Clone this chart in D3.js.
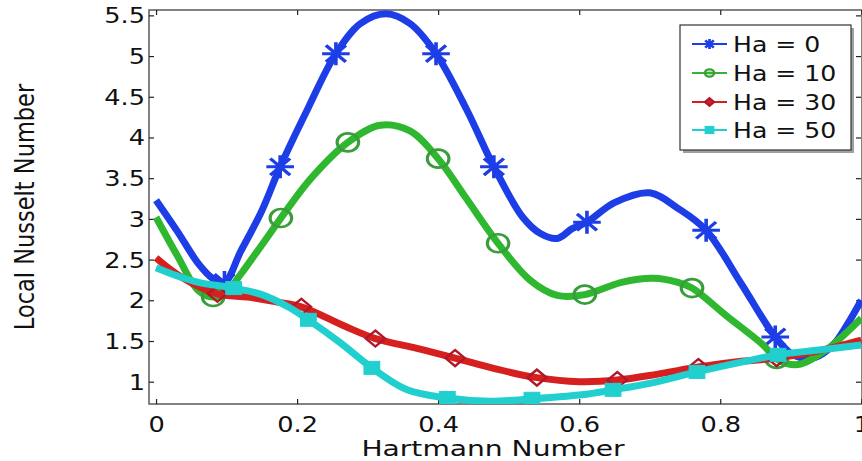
<!DOCTYPE html>
<html>
<head>
<meta charset="utf-8">
<script src="https://cdn.jsdelivr.net/npm/d3@7"></script>
<style>
  html, body { margin: 0; padding: 0; background: #fff; }
  svg { display: block; }
  text { font-family: "DejaVu Sans", sans-serif; fill: #111; }
</style>
</head>
<body>
<svg id="chart" width="862" height="461"></svg>
<script>
// ---- data ----------------------------------------------------------------
const xTicks = [0, 0.2, 0.4, 0.6, 0.8, 1];
const xTickLabels = ["0", "0.2", "0.4", "0.6", "0.8", "1"];
const yTicks = [1, 1.5, 2, 2.5, 3, 3.5, 4, 4.5, 5, 5.5];
const yTickLabels = ["1", "1.5", "2", "2.5", "3", "3.5", "4", "4.5", "5", "5.5"];

const seriesNames = ["Ha = 0", "Ha = 10", "Ha = 30", "Ha = 50"];

// Ha = 0
const ha0X = [0.000, 0.030, 0.060, 0.080, 0.097, 0.120, 0.150, 0.176, 0.215, 0.255, 0.290, 0.326,
              0.360, 0.397, 0.440, 0.479, 0.520, 0.545, 0.569, 0.590, 0.611, 0.650, 0.700, 0.740,
              0.780, 0.830, 0.878, 0.905, 0.935, 0.960, 0.980, 1.000];
const ha0Y = [3.23, 2.85, 2.45, 2.27, 2.22, 2.60, 3.10, 3.64, 4.35, 5.03, 5.40, 5.52,
              5.40, 5.03, 4.35, 3.64, 3.02, 2.82, 2.76, 2.88, 2.96, 3.20, 3.32, 3.13,
              2.86, 2.20, 1.55, 1.32, 1.30, 1.45, 1.70, 2.00];
const ha0Marks = [4, 7, 9, 13, 15, 20, 24, 26];

// Ha = 10
const ha10X = [0.000, 0.030, 0.060, 0.081, 0.100, 0.120, 0.150, 0.177, 0.220, 0.272, 0.318, 0.360,
               0.400, 0.440, 0.485, 0.530, 0.569, 0.608, 0.660, 0.705, 0.740, 0.760, 0.810, 0.861,
               0.880, 0.910, 0.950, 1.000];
const ha10Y = [3.02, 2.55, 2.12, 2.04, 2.10, 2.32, 2.68, 3.01, 3.50, 3.94, 4.15, 4.08,
               3.74, 3.25, 2.70, 2.25, 2.06, 2.07, 2.22, 2.27, 2.22, 2.15, 1.80, 1.45,
               1.28, 1.21, 1.39, 1.78];
const ha10Marks = [3, 7, 9, 12, 14, 17, 21, 24];

// Ha = 30
const ha30X = [0.000, 0.035, 0.087, 0.130, 0.170, 0.206, 0.268, 0.311, 0.370, 0.424, 0.480, 0.540,
               0.600, 0.654, 0.710, 0.769, 0.830, 0.880, 0.940, 1.000];
const ha30Y = [2.52, 2.29, 2.08, 2.04, 1.98, 1.92, 1.68, 1.53, 1.41, 1.29, 1.16, 1.05,
               1.00, 1.02, 1.09, 1.18, 1.25, 1.29, 1.38, 1.51];
const ha30Marks = [2, 5, 7, 9, 11, 13, 15, 17];

// Ha = 50
const ha50X = [0.000, 0.030, 0.060, 0.110, 0.150, 0.187, 0.216, 0.261, 0.306, 0.356, 0.413, 0.474,
               0.533, 0.613, 0.648, 0.700, 0.767, 0.830, 0.882, 0.940, 1.000];
const ha50Y = [2.40, 2.30, 2.22, 2.15, 2.07, 1.92, 1.76, 1.48, 1.17, 0.90, 0.80, 0.76,
               0.79, 0.85, 0.90, 0.98, 1.12, 1.24, 1.33, 1.39, 1.45];
const ha50Marks = [3, 6, 8, 10, 12, 14, 16, 18];

// ---- layout ----------------------------------------------------------------
const svg = d3.select("#chart");
const plotLeft = 149, plotRight = 862, plotTop = 10, plotBottom = 404;
const sx = 1.25;   // horizontal text stretch

const x = d3.scaleLinear().domain([-0.01, 1.001]).range([plotLeft, plotRight]);
const y = d3.scaleLinear().domain([0.726, 5.566]).range([plotBottom, plotTop]);

const colors = ["#1d3ee6", "#2fb82f", "#d62020", "#21cfcf"];
const edgeColors = ["#1d3ee6", "#3a9c3a", "#b0182a", "#21cfcf"];
const markerTypes = ["star", "circle", "diamond", "square"];

const series = [
  { xs: ha0X, ys: ha0Y, marks: ha0Marks },
  { xs: ha10X, ys: ha10Y, marks: ha10Marks },
  { xs: ha30X, ys: ha30Y, marks: ha30Marks },
  { xs: ha50X, ys: ha50Y, marks: ha50Marks }
];

// ---- axes frame with inward ticks -----------------------------------------
const axisColor = "#5a5a5a";
const tickLen = 5;

svg.append("defs").append("clipPath").attr("id", "plotClip")
  .append("rect").attr("x", plotLeft).attr("y", plotTop)
  .attr("width", plotRight - plotLeft).attr("height", plotBottom - plotTop);

svg.append("rect")
  .attr("x", plotLeft).attr("y", plotTop)
  .attr("width", plotRight - plotLeft).attr("height", plotBottom - plotTop)
  .attr("fill", "none").attr("stroke", axisColor).attr("stroke-width", 1.5);

function styleTicks(g) {
  g.select(".domain").remove();
  g.selectAll(".tick line").attr("stroke", "#222").attr("stroke-width", 1.2);
}

// bottom + top ticks
const gxB = svg.append("g").attr("transform", `translate(0,${plotBottom})`)
  .call(d3.axisBottom(x).tickValues(xTicks).tickSize(-tickLen).tickFormat((d, i) => xTickLabels[i]));
styleTicks(gxB);
gxB.selectAll(".tick text")
  .attr("y", null).attr("dy", null)
  .attr("transform", `translate(0,27.5) scale(${sx},1)`)
  .attr("text-anchor", "middle")
  .style("font-size", "20.5px").style("font-family", "DejaVu Sans").attr("fill", "#111");

const gxT = svg.append("g").attr("transform", `translate(0,${plotTop})`)
  .call(d3.axisTop(x).tickValues(xTicks).tickSize(-tickLen).tickFormat(""));
styleTicks(gxT);

// left + right ticks
const gyL = svg.append("g").attr("transform", `translate(${plotLeft},0)`)
  .call(d3.axisLeft(y).tickValues(yTicks).tickSize(-tickLen).tickFormat((d, i) => yTickLabels[i]));
styleTicks(gyL);
gyL.selectAll(".tick text")
  .attr("x", null).attr("dy", null)
  .attr("transform", `translate(-4,7.5) scale(${sx},1)`)
  .attr("text-anchor", "end")
  .style("font-size", "20.5px").style("font-family", "DejaVu Sans").attr("fill", "#111");

const gyR = svg.append("g").attr("transform", `translate(${plotRight - 1},0)`)
  .call(d3.axisRight(y).tickValues(yTicks).tickSize(-tickLen).tickFormat(""));
styleTicks(gyR);

// ---- axis titles -----------------------------------------------------------
svg.append("text")
  .attr("transform", `translate(493,455.8) scale(1.34,1)`)
  .attr("text-anchor", "middle")
  .style("font-size", "21px")
  .text("Hartmann Number");

svg.append("text")
  .attr("transform", `translate(34,207) scale(1.2,1) rotate(-90)`)
  .attr("text-anchor", "middle")
  .style("font-size", "22.5px")
  .text("Local Nusselt Number");

// ---- markers ---------------------------------------------------------------
function drawMarker(g, type, cx, cy, size, i, small) {
  const m = g.append("g").attr("transform", `translate(${cx},${cy}) scale(1.2,1)`);
  if (type === "star") {
    const s = size, d = size * 0.72;
    m.append("path")
      .attr("d", `M${-s},0H${s}M0,${-s}V${s}M${-d},${-d}L${d},${d}M${-d},${d}L${d},${-d}`)
      .attr("stroke", edgeColors[i]).attr("stroke-width", small ? 2.2 : 3).attr("fill", "none");
  } else if (type === "circle") {
    m.append("circle").attr("r", size)
      .attr("stroke", edgeColors[i]).attr("stroke-width", small ? 2 : 2.6)
      .attr("fill", small ? colors[i] : "none").attr("fill-opacity", small ? 0.35 : 0);
  } else if (type === "diamond") {
    m.append("path")
      .attr("d", `M0,${-size}L${size},0L0,${size}L${-size},0Z`)
      .attr("stroke", edgeColors[i]).attr("stroke-width", small ? 2 : 2.2)
      .attr("fill", small ? colors[i] : "none");
  } else {
    m.append("rect").attr("x", -size).attr("y", -size)
      .attr("width", 2 * size).attr("height", 2 * size)
      .attr("fill", colors[i]).attr("stroke", colors[i]).attr("stroke-width", 1);
  }
}

// ---- curves ----------------------------------------------------------------
const plot = svg.append("g").attr("clip-path", "url(#plotClip)");
const line = d3.line()
  .x(d => x(d[0])).y(d => y(d[1]))
  .curve(d3.curveCatmullRom.alpha(0.5));

const markerSizes = [11.5, 9, 8, 6.5];

series.forEach((s, i) => {
  const pts = s.xs.map((v, k) => [v, s.ys[k]]);
  plot.append("path")
    .datum(pts)
    .attr("d", line)
    .attr("fill", "none")
    .attr("stroke", colors[i])
    .attr("stroke-width", 7)
    .attr("stroke-linejoin", "round")
    .attr("stroke-linecap", "butt");
  const mg = plot.append("g");
  s.marks.forEach(k => drawMarker(mg, markerTypes[i], x(s.xs[k]), y(s.ys[k]), markerSizes[i], i, false));
});

// ---- legend ----------------------------------------------------------------
const lg = svg.append("g");
const lx = 680, ly = 25, lw = 171, lh = 125;
lg.append("rect").attr("x", lx + 3).attr("y", ly + 3).attr("width", lw).attr("height", lh)
  .attr("fill", "#a0a0a0");
lg.append("rect").attr("x", lx).attr("y", ly).attr("width", lw).attr("height", lh)
  .attr("fill", "#fff").attr("stroke", "#333").attr("stroke-width", 1.2);

const rowY = [44, 73, 102, 130];
const legendMarkerSizes = [5, 3.8, 3.8, 3.6];
seriesNames.forEach((name, i) => {
  const yy = rowY[i];
  lg.append("line").attr("x1", 692).attr("x2", 727).attr("y1", yy).attr("y2", yy)
    .attr("stroke", colors[i]).attr("stroke-width", 2);
  drawMarker(lg, markerTypes[i], 709.5, yy, legendMarkerSizes[i], i, true);
  lg.append("text")
    .attr("transform", `translate(733,${yy + 8}) scale(1.17,1)`)
    .style("font-size", "21.5px")
    .text(name);
});
</script>
</body>
</html>
